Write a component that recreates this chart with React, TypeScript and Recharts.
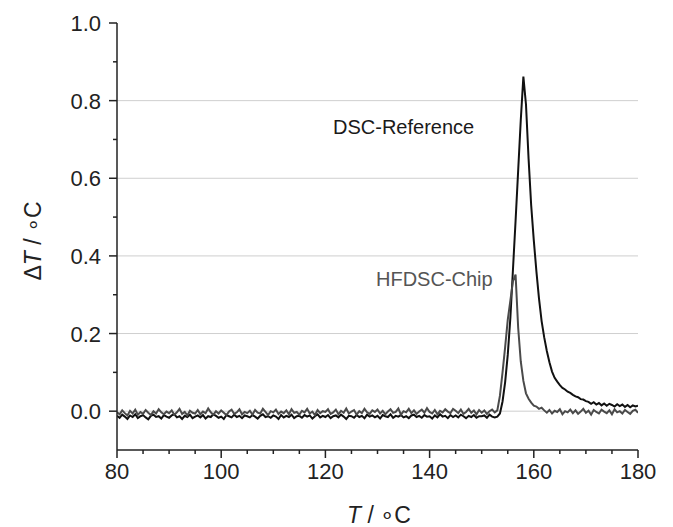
import { LineChart, Line, XAxis, YAxis, ReferenceLine } from 'recharts'

// temperature grid: 80 °C .. 180 °C every 0.5 °C
const T_START = 80
const T_STEP = 0.5

// DSC reference (black), values in milli-°C
const dscBaseline = [
  -12, -17, -9, -14, -20, -11, -15, -8, -18, -13,
  -10, -16, -21, -12, -9, -15, -13, -19, -10, -14,
  -17, -11, -8, -16, -13, -20, -12, -15, -9, -18,
  -14, -11, -16, -10, -19, -13, -15, -8, -12, -17,
  -14, -20, -10, -13, -16, -9, -15, -12, -18, -11,
  -13, -16, -10, -14, -19, -12, -8, -15, -13, -17,
  -11, -14, -20, -10, -16, -12, -15, -9, -18, -13,
  -12, -17, -10, -14, -11, -19, -13, -8, -16, -12,
  -15, -10, -18, -13, -11, -16, -9, -14, -20, -12,
  -13, -17, -10, -15, -12, -18, -9, -14, -11, -16,
  -12, -19, -10, -13, -15, -8, -17, -12, -14, -10,
  -16, -13, -18, -11, -9, -15, -12, -17, -10, -14,
  -13, -19, -11, -16, -8, -14, -12, -18, -10, -15,
  -11, -16, -9, -13, -18, -12, -15, -10, -17, -13,
  -13, -11, -17, -9, -14, -16,
]
const dscPeak = [
  -14, -6, 25, 75, 145, 240, 365, 490, 620, 750,
  862, 790, 650, 530, 440, 360, 290, 232, 190, 155,
  126, 102, 86, 76, 67, 60, 56, 50, 47, 42,
  38, 36, 31, 30, 26,
  24, 19, 23, 17, 21, 15, 20, 14, 19, 16,
  12, 18, 13, 17, 11, 16, 10, 15, 12, 14,
]

// HFDSC chip (grey), values in milli-°C
const chipBaseline = [
  -3, -8, 2, -5, -11, 1, -6, 4, -9, -2,
  -7, 3, -4, -10, 0, -6, 5, -3, -8, -1,
  -5, 2, -9, -3, 6, -7, -2, -11, 1, -4,
  -6, 3, -8, -1, -5, 7, -3, -9, 0, -6,
  2, -4, -10, -1, 4, -7, -3, 5, -8, -2,
  -5, 1, -9, 3, -4, -6, 6, -2, -10, 0,
  -3, 4, -7, -1, -5, 2, -8, 5, -4, -2,
  -9, 1, -3, 6, -6, -1, -10, 3, -5, 0,
  -2, 5, -7, -3, 4, -8, 1, -4, 7, -6,
  -1, 3, -9, 0, -5, 6, -3, -7, 2, -2,
  4, -6, 1, -8, -1, 5, -4, -2, 7, -9,
  0, -3, 6, -5, 2, -7, -1, 4, -4, 8,
  -2, -6, 3, -8, 1, -3, 5, -1, -5, 6,
  1, -5, 4, -7, -2, 6, -4, 2, -8, 3,
  -4, 2, -7, 0, 4, -3,
]
const chipPeak = [
  2, 40, 100, 165, 235, 285, 335, 352, 215, 128,
  78, 46, 32, 22, 14, 12, 6, 9, 2,
  -4, 3, -6, 1, -2, 5, -8, 0, -3, 4,
  -5, 2, -7, -1, 6, -4, 1, -9, 3, -2,
  -6, 4, -1, -5, 2, -8, 5, -3, 0, -6,
  3, -2, -7, 1, 4, -4,
]

const xTicks = [80, 85, 90, 95, 100, 105, 110, 115, 120, 125, 130, 135, 140, 145, 150, 155, 160, 165, 170, 175, 180]
const yTicks = [0, 0.1, 0.2, 0.3, 0.4, 0.5, 0.6, 0.7, 0.8, 0.9, 1.0]
const gridValues = [0, 0.2, 0.4, 0.6, 0.8]

const toSeries = (vals: number[]) => vals.map((v, i) => ({ t: T_START + i * T_STEP, v: v / 1000 }))
const dscData = toSeries([...dscBaseline, ...dscPeak])
const chipData = toSeries([...chipBaseline, ...chipPeak])

const FONT = '"Liberation Sans", Arial, sans-serif'
const AXIS = '#222'

function XTick({ x, y, payload }: any) {
  const major = payload.value % 20 === 0
  return (
    <g>
      <line x1={x} x2={x} y1={y} y2={y + (major ? 8 : 4)} stroke={AXIS} strokeWidth={1.5} />
      {major && (
        <text x={x} y={y + 29} textAnchor="middle" fontSize={22} fill={AXIS} fontFamily={FONT}>
          {payload.value}
        </text>
      )}
    </g>
  )
}

function YTick({ x, y, payload }: any) {
  const major = Math.round(payload.value * 10) % 2 === 0
  return (
    <g>
      <line x1={x - (major ? 8 : 4)} x2={x} y1={y} y2={y} stroke={AXIS} strokeWidth={1.5} />
      {major && (
        <text x={x - 16} y={y + 8} textAnchor="end" fontSize={22} fill={AXIS} fontFamily={FONT}>
          {payload.value.toFixed(1)}
        </text>
      )}
    </g>
  )
}

function RightTick({ x, y }: any) {
  return <line x1={x - 4} x2={x} y1={y} y2={y} stroke={AXIS} strokeWidth={1.5} />
}

export default function App() {
  return (
    <div style={{ position: 'relative', width: 673, height: 527, background: '#fff' }}>
      <style>{'body{margin:0}'}</style>
      <LineChart width={673} height={527} margin={{ top: 23, right: 35, bottom: 17, left: 57 }}>
        <XAxis dataKey="t" type="number" domain={[80, 180]} ticks={xTicks} interval={0}
          tickSize={0} tickMargin={0} height={60} tick={<XTick />}
          axisLine={{ stroke: AXIS, strokeWidth: 1.5 }} allowDataOverflow />
        <XAxis xAxisId="top" orientation="top" type="number" domain={[80, 180]} height={0}
          tick={false} tickLine={false} axisLine={{ stroke: AXIS, strokeWidth: 1.5 }} />
        <YAxis type="number" domain={[-0.1, 1.0]} ticks={yTicks} interval={0} width={60}
          tickSize={0} tickMargin={0} tick={<YTick />}
          axisLine={{ stroke: AXIS, strokeWidth: 1.5 }} allowDataOverflow />
        <YAxis yAxisId="right" orientation="right" type="number" domain={[-0.1, 1.0]} ticks={yTicks}
          interval={0} width={0} tickSize={0} tickMargin={0} tick={<RightTick />}
          axisLine={{ stroke: AXIS, strokeWidth: 1.5 }} />
        {gridValues.map(g => (
          <ReferenceLine key={g} y={g} stroke="#cfcfcf" strokeWidth={1} />
        ))}
        <Line data={dscData} dataKey="v" type="linear" stroke="#111" strokeWidth={2}
          dot={false} activeDot={false} isAnimationActive={false} />
        <Line data={chipData} dataKey="v" type="linear" stroke="#4a4a4a" strokeWidth={2}
          dot={false} activeDot={false} isAnimationActive={false} />
      </LineChart>
      <svg width={673} height={527} style={{ position: 'absolute', left: 0, top: 0, pointerEvents: 'none' }}
        fontFamily={FONT}>
        <text x={333} y={134} fontSize={20} fill="#1a1a1a">DSC-Reference</text>
        <text x={376} y={286} fontSize={20} fill="#555">HFDSC-Chip</text>
        <text transform="translate(41,241) rotate(-90)" textAnchor="middle" fontSize={23} fill={AXIS}>
          Δ<tspan fontStyle="italic">T</tspan> / ∘C
        </text>
        <text x={379} y={523} textAnchor="middle" fontSize={23} fill={AXIS}>
          <tspan fontStyle="italic">T</tspan> / ∘C
        </text>
      </svg>
    </div>
  )
}
